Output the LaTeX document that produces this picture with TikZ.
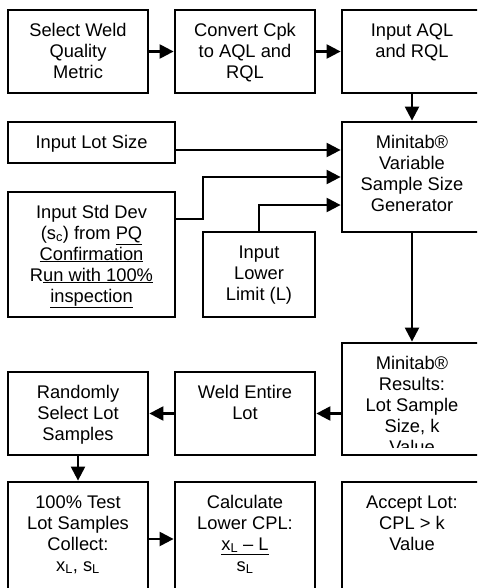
\documentclass[tikz,border=0pt]{standalone}
\usepackage{fontspec}
\setmainfont{Liberation Sans}
\usetikzlibrary{positioning, arrows.meta}

\begin{document}
\begin{tikzpicture}[x=1pt,y=-1pt,
    box/.style={draw, line width=2.8pt, inner sep=0pt},
    txt/.style={align=center, inner sep=0pt, outer sep=0pt, font=\fontsize{18.3}{21}\selectfont},
    arr/.style={line width=2.3pt, -{Triangle[length=14pt,width=14pt]}}]
    \useasboundingbox (0,0) rectangle (477,588);
    \clip (0,0) rectangle (477,588);
    \node[box, minimum width=140pt, minimum height=83pt] (metric) at (78,51.5) {};
    \node[box, minimum width=140pt, minimum height=83pt] (convert) at (245,51.5) {};
    \node[box, minimum width=140pt, minimum height=83pt] (aql) at (412,51.5) {};
    \node[box, minimum width=167pt, minimum height=41pt] (lotsize) at (91.5,142.5) {};
    \node[box, minimum width=140pt, minimum height=110pt] (gen) at (412,177) {};
    \node[box, minimum width=167pt, minimum height=125pt] (sdev) at (91.5,254.5) {};
    \node[box, minimum width=112pt, minimum height=85pt] (lower) at (259,274.5) {};
    \node[box, minimum width=140pt, minimum height=112pt] (results) at (412,399) {};
    \node[box, minimum width=140pt, minimum height=83pt] (weld) at (245,413.5) {};
    \node[box, minimum width=140pt, minimum height=83pt] (random) at (78,413.5) {};
    \node[box, minimum width=140pt, minimum height=114pt] (test) at (78,539) {};
    \node[box, minimum width=140pt, minimum height=114pt] (calc) at (245,539) {};
    \node[box, minimum width=140pt, minimum height=114pt] (accept) at (412,539) {};

    \node[txt, below=12.8pt of metric.north] (metric-t) {\strut Select Weld\\Quality\\Metric};
    \node[txt, below=12.8pt of convert.north] (convert-t) {\strut Convert Cpk\\to AQL and\\RQL};
    \node[txt, below=12.8pt of aql.north] (aql-t) {\strut Input AQL\\and RQL};
    \node[txt, below=12.8pt of lotsize.north] (lotsize-t) {\strut Input Lot Size};
    \node[txt, below=12.8pt of gen.north] (gen-t) {\strut Minitab®\\Variable\\Sample Size\\Generator};
    \node[txt, below=12.8pt of sdev.north] (sdev-t) {\strut Input Std Dev\\(s\textsubscript{c}) from \underline{PQ}\\\underline{Confirmation}\\R\underline{un with 100\%}\\\underline{inspection}};
    \node[txt, below=12.8pt of lower.north] (lower-t) {\strut Input\\Lower\\Limit (L)};
    \begin{scope}
        \clip (results.north west) rectangle (results.south east |- 0,447);
        \node[txt, below=12.8pt of results.north] (results-t) {\strut Minitab®\\Results:\\Lot Sample\\Size, k\\Value};
    \end{scope}
    \node[txt, below=12.8pt of weld.north] (weld-t) {\strut Weld Entire\\Lot};
    \node[txt, below=12.8pt of random.north] (random-t) {\strut Randomly\\Select Lot\\Samples};
    \node[txt, below=12.8pt of test.north] (test-t) {\strut 100\% Test\\Lot Samples\\Collect:\\x\textsubscript{L}, s\textsubscript{L}};
    \node[txt, below=12.8pt of calc.north] (calc-t) {\strut Calculate\\Lower CPL:\\\underline{x\textsubscript{L} – L}\\s\textsubscript{L}};
    \node[txt, below=12.8pt of accept.north] (accept-t) {\strut Accept Lot:\\CPL > k\\Value};

    \coordinate (in1) at ([yshift=27pt]gen.west);
    \coordinate (in2) at (gen.west);
    \coordinate (in3) at ([yshift=-28pt]gen.west);
    \coordinate (bend) at (203,219);
    \draw[arr] (metric) -- (convert);
    \draw[arr] (convert) -- (aql);
    \draw[arr] (aql) -- (gen);
    \draw[arr] (in1 -| lotsize.east) -- (in1);
    \draw[arr] (bend -| sdev.east) -- (bend) |- (in2);
    \draw[arr] (lower) |- (in3);
    \draw[arr] (gen) -- (results);
    \draw[arr] (weld.east -| results.west) -- (weld);
    \draw[arr] (weld) -- (random);
    \draw[arr] (random) -- (test);
    \draw[arr] (test) -- (calc);
\end{tikzpicture}
\end{document}
